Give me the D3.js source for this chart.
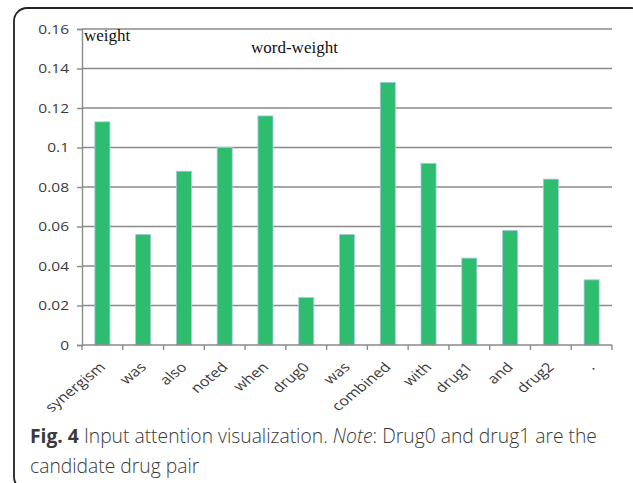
<!DOCTYPE html>
<html>
<head>
<meta charset="utf-8">
<script src="https://cdn.jsdelivr.net/npm/d3@7"></script>
<style>
  html, body { margin: 0; padding: 0; background: #fff; }
  svg { display: block; }
</style>
</head>
<body>
<svg id="chart" width="633" height="483"></svg>
<script>
// Attention weight assigned to each input token
const words = ["synergism", "was", "also", "noted", "when", "drug0", "was", "combined", "with", "drug1", "and", "drug2", "."];
const weights = [0.113, 0.056, 0.088, 0.100, 0.116, 0.024, 0.056, 0.133, 0.092, 0.044, 0.058, 0.084, 0.033];
const yTicks = [0, 0.02, 0.04, 0.06, 0.08, 0.1, 0.12, 0.14, 0.16];
const yTickLabels = ["0", "0.02", "0.04", "0.06", "0.08", "0.1", "0.12", "0.14", "0.16"];

const svg = d3.select("#chart");

// Rounded frame around the figure
svg.append("rect")
  .attr("x", 14).attr("y", 8)
  .attr("width", 630).attr("height", 482)
  .attr("rx", 13).attr("ry", 13)
  .attr("fill", "none")
  .attr("stroke", "#222")
  .attr("stroke-width", 1.8);

const plotLeft = 82, plotRight = 612, plotTop = 29, plotBottom = 345;
// chart text is drawn slightly wide
const stretch = 1.22;

const x = d3.scaleBand()
  .domain(d3.range(words.length))
  .range([plotLeft, plotRight])
  .paddingInner(0.63)
  .paddingOuter(0.315);

const y = d3.scaleLinear()
  .domain([0, 0.16])
  .range([plotBottom, plotTop]);

// Horizontal gridlines
svg.append("g")
  .selectAll("line")
  .data(yTicks.slice(1))
  .join("line")
  .attr("x1", plotLeft).attr("x2", plotRight)
  .attr("y1", d => y(d)).attr("y2", d => y(d))
  .attr("stroke", "#8a8a8a")
  .attr("stroke-width", 1.4);

// Y axis
const yAxis = d3.axisLeft(y)
  .tickValues(yTicks)
  .tickFormat((d, i) => yTickLabels[i])
  .tickSize(5)
  .tickPadding(6);

const gy = svg.append("g")
  .attr("transform", `translate(${plotLeft},0)`)
  .call(yAxis);
gy.select(".domain").attr("stroke", "#8a8a8a").attr("stroke-width", 1.4);
gy.selectAll(".tick line").attr("stroke", "#8a8a8a").attr("stroke-width", 1.4);
gy.selectAll(".tick text")
  .attr("x", -13 / 1.24)
  .attr("transform", "scale(1.24,1)")
  .attr("fill", "#3a3a3a")
  .style("font-family", "'Open Sans', sans-serif")
  .style("font-size", "12.5px");

// Bars
svg.append("g")
  .selectAll("rect")
  .data(weights)
  .join("rect")
  .attr("x", (d, i) => x(i))
  .attr("width", x.bandwidth())
  .attr("y", d => y(d))
  .attr("height", d => y(0) - y(d))
  .attr("fill", "#2ebd6e")
  .attr("stroke", "#a9c9e6")
  .attr("stroke-width", 0.8);

// X axis baseline with ticks between categories
const gx = svg.append("g");
gx.append("line")
  .attr("x1", plotLeft).attr("x2", plotRight)
  .attr("y1", plotBottom).attr("y2", plotBottom)
  .attr("stroke", "#8a8a8a").attr("stroke-width", 1.4);
const step = x.step();
gx.selectAll("line.tick")
  .data(d3.range(words.length + 1))
  .join("line")
  .attr("class", "tick")
  .attr("x1", i => plotLeft + i * step)
  .attr("x2", i => plotLeft + i * step)
  .attr("y1", plotBottom).attr("y2", plotBottom + 5)
  .attr("stroke", "#8a8a8a").attr("stroke-width", 1.4);

// Rotated category labels
gx.selectAll("text")
  .data(words)
  .join("text")
  .attr("transform", (d, i) =>
    `translate(${x(i) + x.bandwidth() / 2 + 4},${plotBottom + 23}) scale(${stretch},1) rotate(-45)`)
  .attr("text-anchor", "end")
  .attr("fill", "#3a3a3a")
  .style("font-family", "'Open Sans', sans-serif")
  .style("font-size", "13.3px")
  .text(d => d);

// In-plot titles
svg.append("text")
  .attr("x", 84).attr("y", 41)
  .style("font-family", "'Liberation Serif', 'Times New Roman', serif")
  .style("font-size", "17px")
  .attr("fill", "#111")
  .text("weight");

svg.append("text")
  .attr("x", 251).attr("y", 53)
  .style("font-family", "'Liberation Serif', 'Times New Roman', serif")
  .style("font-size", "17px")
  .attr("fill", "#111")
  .text("word-weight");

// Figure caption
const cap = svg.append("text")
  .attr("x", 30).attr("y", 443)
  .attr("fill", "#3a3a3a")
  .style("font-family", "'Open Sans', sans-serif")
  .style("font-weight", "300")
  .style("font-size", "19.3px");
cap.append("tspan").style("font-weight", "bold").text("Fig. 4");
cap.append("tspan").text(" Input attention visualization. ");
cap.append("tspan").style("font-style", "italic").text("Note");
cap.append("tspan").text(": Drug0 and drug1 are the");

svg.append("text")
  .attr("x", 30).attr("y", 473)
  .attr("fill", "#3a3a3a")
  .style("font-family", "'Open Sans', sans-serif")
  .style("font-weight", "300")
  .style("font-size", "19.3px")
  .text("candidate drug pair");
</script>
</body>
</html>
